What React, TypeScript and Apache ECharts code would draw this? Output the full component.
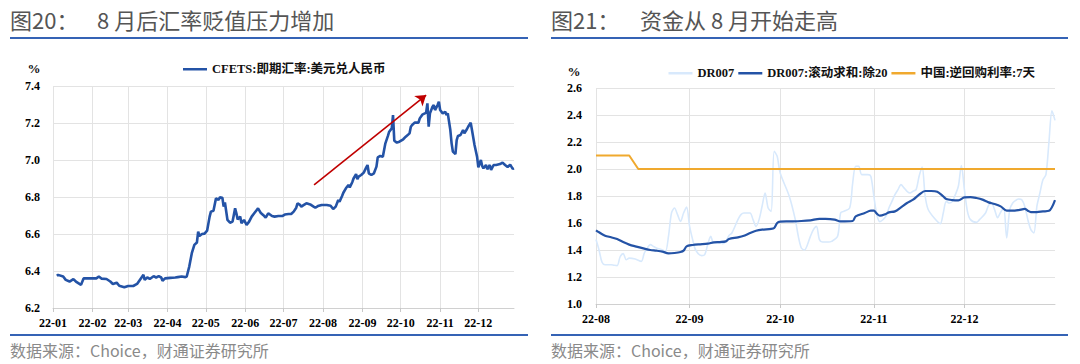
import React, { useEffect, useRef } from 'react';
import * as echarts from 'echarts';

// ---------- Chart 20: CFETS USD/CNY spot (2022) ----------
const fxYear = '2022';
const fxStart = '2022-01-01';
const fxEnd = '2022-12-29';
const fxDates = [
  '01-04', '01-05', '01-09', '01-11', '01-14', '01-17', '01-19', '01-23', '01-25', '01-27',
  '02-04', '02-06', '02-08', '02-12', '02-15', '02-17', '02-20', '02-22', '02-26',
  '03-01', '03-05', '03-08', '03-11', '03-13', '03-14', '03-16', '03-18', '03-21', '03-23', '03-25', '03-27', '03-28', '03-30',
  '04-03', '04-07', '04-09', '04-12', '04-15', '04-16', '04-18', '04-20', '04-22', '04-24', '04-25', '04-26', '04-28', '04-30',
  '05-02', '05-04', '05-05', '05-07', '05-09', '05-11', '05-12', '05-14', '05-15', '05-16', '05-18', '05-20', '05-22', '05-23', '05-24', '05-25', '05-26', '05-28', '05-29', '05-31',
  '06-02', '06-04', '06-06', '06-08', '06-10', '06-11', '06-13', '06-15', '06-17', '06-19', '06-22', '06-24', '06-27', '06-30',
  '07-02', '07-05', '07-07', '07-09', '07-11', '07-12', '07-14', '07-15', '07-17', '07-19', '07-22', '07-24', '07-26', '07-28', '07-31',
  '08-04', '08-07', '08-09', '08-11', '08-13', '08-14', '08-16', '08-17', '08-19', '08-21', '08-22', '08-24', '08-25', '08-27', '08-28', '08-29', '08-31',
  '09-02', '09-04', '09-05', '09-06', '09-08', '09-10', '09-12', '09-13', '09-15', '09-17', '09-19', '09-21', '09-22', '09-24', '09-25', '09-26', '09-28', '09-30',
  '10-03', '10-05', '10-08', '10-09', '10-10', '10-12', '10-15', '10-16', '10-18', '10-20', '10-21', '10-22', '10-23', '10-24', '10-26', '10-27', '10-28', '10-30', '10-31',
  '11-01', '11-03', '11-05', '11-06', '11-07', '11-09', '11-10', '11-11', '11-13', '11-14', '11-15', '11-17', '11-19', '11-20', '11-22', '11-23', '11-25', '11-26', '11-28', '11-30',
  '12-01', '12-03', '12-04', '12-05', '12-07', '12-08', '12-10', '12-11', '12-13', '12-15', '12-18', '12-20', '12-22', '12-24', '12-26', '12-28', '12-29',
];
const fxValues = [
  6.374, 6.379, 6.370, 6.352, 6.343, 6.356, 6.343, 6.325, 6.360, 6.360,
  6.360, 6.370, 6.359, 6.357, 6.343, 6.330, 6.337, 6.320, 6.312,
  6.319, 6.319, 6.330, 6.360, 6.379, 6.352, 6.366, 6.357, 6.372, 6.365, 6.372, 6.365, 6.347, 6.360,
  6.363, 6.365, 6.367, 6.370, 6.367, 6.370, 6.424, 6.496, 6.541, 6.554, 6.613, 6.590, 6.600, 6.602,
  6.618, 6.694, 6.721, 6.726, 6.793, 6.784, 6.798, 6.796, 6.748, 6.770, 6.676, 6.661, 6.667, 6.703, 6.739, 6.712, 6.679, 6.694, 6.658, 6.676,
  6.649, 6.667, 6.694, 6.712, 6.730, 6.739, 6.715, 6.703, 6.688, 6.712, 6.697, 6.694, 6.697, 6.697,
  6.705, 6.708, 6.708, 6.721, 6.742, 6.766, 6.757, 6.748, 6.757, 6.766, 6.760, 6.751, 6.742, 6.751, 6.757,
  6.757, 6.753, 6.735, 6.748, 6.784, 6.775, 6.805, 6.823, 6.847, 6.865, 6.852, 6.880, 6.900, 6.924, 6.896, 6.910, 6.919,
  6.932, 6.960, 6.973, 6.928, 6.919, 6.928, 6.964, 7.014, 7.022, 7.018, 7.090, 7.130, 7.153, 7.171, 7.243, 7.104, 7.094, 7.099,
  7.112, 7.126, 7.144, 7.180, 7.189, 7.202, 7.202, 7.225, 7.245, 7.252, 7.256, 7.306, 7.180, 7.252, 7.288, 7.297, 7.270, 7.297, 7.315,
  7.270, 7.252, 7.261, 7.243, 7.252, 7.162, 7.090, 7.045, 7.032, 7.108, 7.130, 7.135, 7.162, 7.144, 7.166, 7.180, 7.202, 7.162, 7.081, 7.018,
  6.960, 7.000, 6.968, 6.955, 6.973, 6.950, 6.973, 6.946, 6.973, 6.973, 6.978, 6.986, 6.973, 6.962, 6.975, 6.952, 6.955,
];
const fxArrowFrom = { date: '07-25', value: 6.865 };
const fxArrowTo = { date: '10-21', value: 7.351 };
const fxYTicks = { min: 6.2, max: 7.4, step: 0.2 };

// ---------- Chart 21: DR007 (Aug–Dec 2022) ----------
const rateStart = '2022-08-01';
const rateEnd = '2022-12-31';
const dr007Dates = [
  '08-01', '08-02', '08-03', '08-04', '08-06', '08-07', '08-08', '08-09', '08-10', '08-11', '08-12', '08-14', '08-16', '08-17', '08-18', '08-19', '08-20', '08-21', '08-23', '08-24', '08-25', '08-26', '08-27', '08-28', '08-29', '08-30', '08-31',
  '09-01', '09-02', '09-03', '09-05', '09-06', '09-07', '09-08', '09-09', '09-11', '09-12', '09-13', '09-14', '09-15', '09-17', '09-18', '09-19', '09-21', '09-22', '09-23', '09-24', '09-25', '09-26', '09-27', '09-28', '09-29', '09-30',
  '10-01', '10-04', '10-06', '10-07', '10-08', '10-09', '10-11', '10-12', '10-13', '10-14', '10-15', '10-17', '10-18', '10-20', '10-21', '10-22', '10-24', '10-25', '10-26', '10-27', '10-28', '10-30', '10-31',
  '11-01', '11-02', '11-03', '11-05', '11-06', '11-07', '11-08', '11-09', '11-10', '11-11', '11-12', '11-13', '11-14', '11-15', '11-16', '11-17', '11-18', '11-19', '11-21', '11-23', '11-24', '11-25', '11-26', '11-27', '11-28', '11-29', '11-30',
  '12-01', '12-02', '12-03', '12-05', '12-06', '12-08', '12-09', '12-10', '12-11', '12-12', '12-13', '12-14', '12-15', '12-16', '12-17', '12-18', '12-19', '12-20', '12-21', '12-22', '12-23', '12-24', '12-25', '12-26', '12-27', '12-28', '12-29', '12-30', '12-31',
];
const dr007Values = [
  1.477, 1.400, 1.309, 1.291, 1.291, 1.287, 1.284, 1.350, 1.373, 1.328, 1.340, 1.333, 1.316, 1.378, 1.415, 1.440, 1.427, 1.415, 1.400, 1.390, 1.501, 1.674, 1.711, 1.662, 1.612, 1.674, 1.718,
  1.575, 1.477, 1.400, 1.358, 1.365, 1.440, 1.501, 1.452, 1.452, 1.447, 1.464, 1.506, 1.526, 1.625, 1.662, 1.674, 1.674, 1.625, 1.575, 1.625, 1.724, 1.822, 1.711, 1.686, 2.131, 2.094,
  1.970, 1.798, 1.625, 1.501, 1.415, 1.400, 1.501, 1.551, 1.575, 1.477, 1.459, 1.459, 1.464, 1.501, 1.674, 1.686, 1.711, 1.896, 2.020, 2.020, 1.958, 1.958, 1.946,
  1.800, 1.660, 1.610, 1.649, 1.711, 1.760, 1.810, 1.847, 1.884, 1.860, 1.835, 1.822, 1.835, 1.847, 1.946, 2.015, 1.800, 1.700, 1.637, 1.595, 1.674, 1.760, 1.748, 1.760, 1.810, 1.872, 2.025,
  1.847, 1.686, 1.625, 1.605, 1.625, 1.674, 1.730, 1.748, 1.699, 1.640, 1.680, 1.711, 1.489, 1.699, 1.748, 1.768, 1.778, 1.773, 1.723, 1.625, 1.551, 1.526, 1.723, 1.822, 1.921, 1.958, 2.200, 2.432, 2.360,
];
const dr007AvgDates = [
  '08-01', '08-02', '08-04', '08-06', '08-08', '08-10', '08-12', '08-14', '08-17', '08-19', '08-21', '08-23', '08-25', '08-27', '08-29', '08-30', '08-31',
  '09-02', '09-04', '09-07', '09-09', '09-11', '09-13', '09-14', '09-17', '09-19', '09-21', '09-23', '09-25', '09-28', '09-29', '09-30',
  '10-01', '10-04', '10-08', '10-11', '10-14', '10-16', '10-19', '10-21', '10-25', '10-26', '10-29', '10-31',
  '11-01', '11-02', '11-03', '11-05', '11-06', '11-08', '11-10', '11-12', '11-14', '11-16', '11-18', '11-20', '11-22', '11-24', '11-25', '11-27', '11-29',
  '12-01', '12-03', '12-05', '12-07', '12-09', '12-11', '12-13', '12-15', '12-17', '12-19', '12-21', '12-22', '12-23', '12-25', '12-27', '12-29', '12-31',
];
const dr007AvgValues = [
  1.546, 1.531, 1.506, 1.494, 1.481, 1.459, 1.440, 1.427, 1.410, 1.400, 1.395, 1.388, 1.375, 1.378, 1.385, 1.395, 1.427,
  1.437, 1.442, 1.447, 1.457, 1.459, 1.464, 1.481, 1.494, 1.506, 1.526, 1.543, 1.551, 1.556, 1.563, 1.600,
  1.610, 1.612, 1.615, 1.620, 1.630, 1.630, 1.625, 1.612, 1.615, 1.649, 1.674, 1.691,
  1.691, 1.669, 1.654, 1.667, 1.679, 1.686, 1.716, 1.748, 1.773, 1.810, 1.837, 1.837, 1.832, 1.797, 1.778, 1.770, 1.768,
  1.790, 1.792, 1.785, 1.773, 1.753, 1.741, 1.723, 1.691, 1.691, 1.696, 1.704, 1.691, 1.681, 1.681, 1.686, 1.690, 1.770,
];
const repoDates = ['08-01', '08-12', '08-15', '12-31'];
const repoValues = [2.1, 2.1, 2.0, 2.0];
const rateYTicks = { min: 1.0, max: 2.6, step: 0.2 };

const fxSeriesName = 'CFETS:即期汇率:美元兑人民币';
const drName = 'DR007';
const drAvgName = 'DR007:滚动求和:除20';
const repoName = '中国:逆回购利率:7天';

// ---------- helpers ----------
function dayList(start: string, end: string): string[] {
  const out: string[] = [];
  const d = new Date(start + 'T00:00:00Z');
  const e = new Date(end + 'T00:00:00Z');
  while (d.getTime() <= e.getTime()) {
    out.push(d.toISOString().slice(0, 10));
    d.setUTCDate(d.getUTCDate() + 1);
  }
  return out;
}
function toPoints(cats: string[], dates: string[], values: number[]) {
  const idx = new Map(cats.map((c, i) => [c, i] as [string, number]));
  return dates.map((d, i) => [idx.get(fxYear + '-' + d) as number, values[i]]);
}

const SERIF = "'Liberation Serif', 'Times New Roman', serif";
const SERIF_CJK = "'Liberation Serif', 'Noto Sans CJK SC', serif";
const CJK = "'Noto Sans CJK SC', 'Noto Sans', sans-serif";
const GRID_COLOR = '#e3e3e3';
const RULE_COLOR = '#3563b5';

function isMonthStart(_i: number, v: string) {
  return typeof v === 'string' && v.slice(8) === '01';
}

function xAxisFor(gridIndex: number, cats: string[]) {
  return {
    type: 'category',
    gridIndex,
    data: cats,
    boundaryGap: false,
    axisLine: { show: true, lineStyle: { color: '#d0d0d0', width: 1 } },
    axisTick: { show: true, interval: isMonthStart, length: 4, lineStyle: { color: '#c8c8c8' } },
    splitLine: { show: true, interval: isMonthStart, lineStyle: { color: GRID_COLOR, width: 1 } },
    axisLabel: {
      interval: isMonthStart,
      formatter: (v: string) => v.slice(2, 7),
      margin: 9,
      color: '#000',
      fontFamily: SERIF,
      fontWeight: 'bold',
      fontSize: 12,
    },
  };
}

function yAxisFor(gridIndex: number, t: { min: number; max: number; step: number }, margin: number) {
  return {
    type: 'value',
    gridIndex,
    min: t.min,
    max: t.max,
    interval: t.step,
    axisLine: { show: false },
    axisTick: { show: false },
    splitLine: { show: true, lineStyle: { color: GRID_COLOR, width: 1 } },
    axisLabel: {
      margin,
      formatter: (v: number) => v.toFixed(1),
      color: '#000',
      fontFamily: SERIF,
      fontWeight: 'bold',
      fontSize: 12,
    },
  };
}

const legendBase = {
  icon: 'rect',
  itemWidth: 24,
  itemHeight: 2.5,
  itemGap: 4,
  textStyle: { fontFamily: SERIF_CJK, fontWeight: 'bold', fontSize: 12.5, color: '#111' },
};

export default function App() {
  const ref = useRef<HTMLDivElement>(null);

  useEffect(() => {
    if (!ref.current) return;
    const chart = echarts.init(ref.current, null, { renderer: 'svg' });

    const fxCats = dayList(fxStart, fxEnd);
    const rateCats = dayList(rateStart, rateEnd);
    const fxIdx = (d: string) => fxCats.indexOf(fxYear + '-' + d);

    const title = (x: number, text: string) => ({
      type: 'text',
      left: x,
      top: 8,
      style: { text, fill: '#555555', font: `22px ${CJK}` },
    });
    const rule = (x1: number, x2: number, y: number) => ({
      type: 'line',
      shape: { x1, y1: y, x2, y2: y },
      style: { stroke: RULE_COLOR, lineWidth: 2 },
    });
    const source = (x: number) => ({
      type: 'text',
      left: x,
      top: 342,
      style: { text: '数据来源：Choice，财通证券研究所', fill: '#8a8a8a', font: `16px ${CJK}` },
    });
    const pct = (x: number, y: number) => ({
      type: 'text',
      x,
      y,
      style: { text: '%', fill: '#111', font: `bold 13px ${SERIF}`, textAlign: 'center', textVerticalAlign: 'middle' },
    });

    const option: any = {
      animation: false,
      backgroundColor: '#ffffff',
      grid: [
        { left: 53, top: 86, width: 461, height: 222, outerBoundsMode: 'none', containLabel: false },
        { left: 596, top: 88, width: 459, height: 216, outerBoundsMode: 'none', containLabel: false },
      ],
      xAxis: [xAxisFor(0, fxCats), xAxisFor(1, rateCats)],
      yAxis: [yAxisFor(0, fxYTicks, 13), yAxisFor(1, rateYTicks, 14)],
      legend: [
        { ...legendBase, left: 178, top: 58, data: [fxSeriesName] },
        { ...legendBase, right: 40, top: 62, data: [drName, drAvgName, repoName] },
      ],
      graphic: [
        title(10, '图20：'),
        title(97, '8 月后汇率贬值压力增加'),
        title(551, '图21：'),
        title(640, '资金从 8 月开始走高'),
        rule(10, 528, 38),
        rule(551, 1068, 38),
        rule(10, 528, 335),
        rule(551, 1068, 335),
        source(10),
        source(551),
        pct(34, 68),
        pct(574, 71),
      ],
      series: [
        {
          name: fxSeriesName,
          type: 'line',
          xAxisIndex: 0,
          yAxisIndex: 0,
          data: toPoints(fxCats, fxDates, fxValues),
          symbol: 'none',
          lineStyle: { color: '#2453a6', width: 2.6 },
          itemStyle: { color: '#2453a6' },
          markLine: {
            silent: true,
            symbol: ['none', 'arrow'],
            symbolSize: 10,
            label: { show: false },
            lineStyle: { color: '#c00000', width: 1.6, type: 'solid' },
            data: [[
              { coord: [fxIdx(fxArrowFrom.date), fxArrowFrom.value] },
              { coord: [fxIdx(fxArrowTo.date), fxArrowTo.value] },
            ]],
          },
        },
        {
          name: drName,
          type: 'line',
          xAxisIndex: 1,
          yAxisIndex: 1,
          data: toPoints(rateCats, dr007Dates, dr007Values),
          symbol: 'none',
          smooth: 0.3,
          lineStyle: { color: '#d8e9fc', width: 1.6 },
          itemStyle: { color: '#d8e9fc' },
        },
        {
          name: drAvgName,
          type: 'line',
          xAxisIndex: 1,
          yAxisIndex: 1,
          data: toPoints(rateCats, dr007AvgDates, dr007AvgValues),
          symbol: 'none',
          smooth: 0.3,
          lineStyle: { color: '#2453a6', width: 2.2 },
          itemStyle: { color: '#2453a6' },
        },
        {
          name: repoName,
          type: 'line',
          xAxisIndex: 1,
          yAxisIndex: 1,
          data: toPoints(rateCats, repoDates, repoValues),
          symbol: 'none',
          lineStyle: { color: '#f0a92e', width: 2 },
          itemStyle: { color: '#f0a92e' },
        },
      ],
    };

    chart.setOption(option);
    return () => chart.dispose();
  }, []);

  return (
    <div
      ref={ref}
      style={{ position: 'absolute', left: 0, top: 0, width: 1080, height: 364, background: '#fff' }}
    />
  );
}
